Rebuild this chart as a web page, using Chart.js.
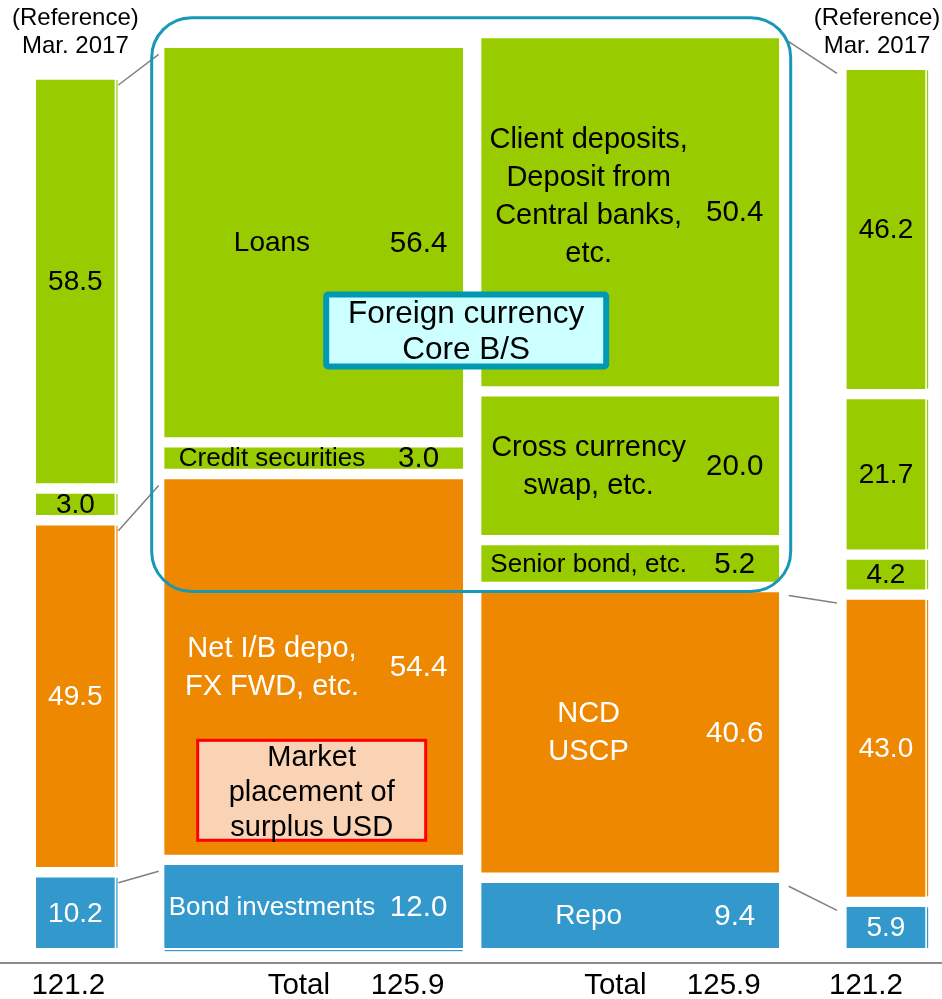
<!DOCTYPE html>
<html>
<head>
<meta charset="utf-8">
<title>Foreign currency B/S</title>
<script src="https://cdn.jsdelivr.net/npm/chart.js@4.4.1/dist/chart.umd.min.js"></script>
<style>
  html, body { margin: 0; padding: 0; background: #ffffff; }
</style>
</head>
<body>
<canvas id="bs-chart" width="942" height="999"></canvas>
<script>
'use strict';

// ******DATA****** (segments are listed bottom to top)
let columnHeaders = ['(Reference)', 'Mar. 2017'];
let columnTotals = [121.2, 125.9, 125.9, 121.2];
let totalLabel = 'Total';

let assetNames = ['Bond investments', 'Net I/B depo,\nFX FWD, etc.', 'Credit securities', 'Loans'];
let assetValues = [12.0, 54.4, 3.0, 56.4];
let refAssetValues = [10.2, 49.5, 3.0, 58.5];
let assetGroups = ['bond', 'market', 'core', 'core'];

let liabilityNames = ['Repo', 'NCD\nUSCP', 'Senior bond, etc.', 'Cross currency\nswap, etc.', 'Client deposits,\nDeposit from\nCentral banks,\netc.'];
let liabilityValues = [9.4, 40.6, 5.2, 20.0, 50.4];
let refLiabilityValues = [5.9, 43.0, 4.2, 21.7, 46.2];
let liabilityGroups = ['bond', 'market', 'core', 'core', 'core'];

let coreBoxText = ['Foreign currency', 'Core B/S'];
let noteBoxText = ['Market', 'placement of', 'surplus USD'];

// ******STYLE / LAYOUT******
const FONT = '"Liberation Sans", Arial, sans-serif';
let groupColors = { core: '#99cc00', market: '#ee8800', bond: '#3399cc' };
let groupTextColors = { core: '#000000', market: '#ffffff', bond: '#ffffff' };
let columnX = [8.0, 33.3, 66.9, 94.05];     // spot of each column on a 0-100 axis
let columnWidths = [78, 298, 297, 78];
const GAP = 1.6;                             // white space between segments, in value units

// ******HELPERS******
function toRanges(values, x) {
  let out = [];
  let base = 0;
  for (let i = 0; i < values.length; i++) {
    out.push({ x: x, y: [base, base + values[i]] });
    base += values[i] + GAP;
  }
  return out;
}

let columns = [
  { values: refAssetValues, groups: assetGroups, names: null },
  { values: assetValues, groups: assetGroups, names: assetNames },
  { values: liabilityValues, groups: liabilityGroups, names: liabilityNames },
  { values: refLiabilityValues, groups: liabilityGroups, names: null }
];

let datasets = columns.map(function (col, i) {
  return {
    label: 'column ' + i,
    data: toRanges(col.values, columnX[i]),
    backgroundColor: col.groups.map(g => groupColors[g]),
    borderWidth: 0,
    barThickness: columnWidths[i],
    grouped: false
  };
});

function setFont(ctx, size) {
  ctx.font = size + 'px ' + FONT;
}

function drawLines(ctx, lines, x, y, lineHeight) {
  let start = y - (lines.length - 1) * lineHeight / 2;
  lines.forEach((line, i) => ctx.fillText(line, x, start + i * lineHeight));
}

// rect of a bar element
function box(el) {
  return {
    left: el.x - el.width / 2,
    right: el.x + el.width / 2,
    top: Math.min(el.y, el.base),
    bottom: Math.max(el.y, el.base)
  };
}

// top edge of the highest segment of a group
function groupTop(chart, colIndex, group) {
  let meta = chart.getDatasetMeta(colIndex);
  let top = null;
  columns[colIndex].groups.forEach(function (g, i) {
    if (g === group) {
      let b = box(meta.data[i]);
      if (top === null || b.top < top) top = b.top;
    }
  });
  return top;
}

function roundRect(ctx, x, y, w, h, r) {
  ctx.beginPath();
  ctx.moveTo(x + r, y);
  ctx.lineTo(x + w - r, y);
  ctx.arcTo(x + w, y, x + w, y + r, r);
  ctx.lineTo(x + w, y + h - r);
  ctx.arcTo(x + w, y + h, x + w - r, y + h, r);
  ctx.lineTo(x + r, y + h);
  ctx.arcTo(x, y + h, x, y + h - r, r);
  ctx.lineTo(x, y + r);
  ctx.arcTo(x, y, x + r, y, r);
  ctx.closePath();
}

// ******PLUGIN: labels, connectors, frames******
let balanceSheetPlugin = {
  id: 'balanceSheet',
  afterDatasetsDraw(chart) {
    let ctx = chart.ctx;
    let area = chart.chartArea;
    let metas = columns.map((c, i) => chart.getDatasetMeta(i));
    let bars = metas.map(m => {
      let b = box(m.data[0]);
      b.top = Math.min.apply(null, m.data.map(el => box(el).top));
      b.center = (b.left + b.right) / 2;
      return b;
    });

    ctx.save();

    // thin slivers beside the reference columns
    [0, 3].forEach(function (ci) {
      metas[ci].data.forEach(function (el, i) {
        let b = box(el);
        ctx.fillStyle = groupColors[columns[ci].groups[i]];
        ctx.fillRect(b.right + 2, b.top, 1.2, b.bottom - b.top);
      });
    });
    // thin line under the bond investments bar
    let bond = box(metas[1].data[0]);
    ctx.fillStyle = groupColors.bond;
    ctx.fillRect(bond.left, bond.bottom + 2, bond.right - bond.left, 1.2);

    // connector lines between reference and current columns
    ctx.strokeStyle = '#808080';
    ctx.lineWidth = 1.5;
    ['core', 'market', 'bond'].forEach(function (g) {
      let a = groupTop(chart, 0, g);
      let b = groupTop(chart, 1, g);
      ctx.beginPath();
      ctx.moveTo(bars[0].right + 4, a + 5);
      ctx.lineTo(bars[1].left - 6, b + 6);
      ctx.stroke();
      let c = groupTop(chart, 2, g);
      let d = groupTop(chart, 3, g);
      ctx.beginPath();
      ctx.moveTo(bars[2].right + 10, c + 3);
      ctx.lineTo(bars[3].left - 10, d + 3);
      ctx.stroke();
    });

    // segment labels
    ctx.textBaseline = 'middle';
    ctx.textAlign = 'center';
    columns.forEach(function (col, ci) {
      metas[ci].data.forEach(function (el, i) {
        let b = box(el);
        let cy = (b.top + b.bottom) / 2;
        let w = b.right - b.left;
        ctx.fillStyle = groupTextColors[col.groups[i]];
        let valueText = col.values[i].toFixed(1);
        if (!col.names) {
          setFont(ctx, 28);
          ctx.fillText(valueText, el.x, cy + 1);
          return;
        }
        let lines = col.names[i].split('\n');
        let size = 28;
        if (lines.length === 1 && lines[0].length > 12) size = 26;
        if (lines.length > 1) size = 29;
        setFont(ctx, size);
        let shift = lines.length > 3 ? -16 : 0;
        drawLines(ctx, lines, b.left + 0.36 * w, cy + 1 + shift, 38);
        setFont(ctx, 29.5);
        ctx.fillText(valueText, b.left + 0.852 * w, cy + 1);
      });
    });

    // rounded frame round the core B/S
    let senior = box(metas[2].data[2]);
    let frame = {
      left: bars[1].left - 13,
      right: bars[2].right + 12,
      top: Math.min(bars[1].top, bars[2].top) - 21,
      bottom: senior.bottom + 10
    };
    ctx.strokeStyle = '#1799b6';
    ctx.lineWidth = 3;
    roundRect(ctx, frame.left, frame.top, frame.right - frame.left, frame.bottom - frame.top, 40);
    ctx.stroke();

    // "Foreign currency Core B/S" box
    let fcx = (bars[1].right + bars[2].left) / 2 - 6;
    let fcy = frame.top + 0.545 * (frame.bottom - frame.top);
    ctx.fillStyle = '#ccffff';
    ctx.strokeStyle = '#0099b3';
    ctx.lineWidth = 6;
    roundRect(ctx, fcx - 140, fcy - 36, 280, 72, 2);
    ctx.fill();
    ctx.stroke();
    ctx.fillStyle = '#000000';
    setFont(ctx, 31.5);
    drawLines(ctx, coreBoxText, fcx, fcy + 2, 36);

    // "Market placement of surplus USD" box
    let market = box(metas[1].data[1]);
    let mx = bars[1].center - 2;
    let mTop = market.bottom - 114;
    ctx.fillStyle = '#fad3b4';
    ctx.strokeStyle = '#ff0000';
    ctx.lineWidth = 3;
    ctx.fillRect(mx - 114, mTop, 228, 100);
    ctx.strokeRect(mx - 114, mTop, 228, 100);
    ctx.fillStyle = '#000000';
    setFont(ctx, 29);
    drawLines(ctx, noteBoxText, mx, mTop + 53, 35);

    // column headers above the reference columns
    setFont(ctx, 24);
    ctx.fillStyle = '#000000';
    [0, 3].forEach(function (ci) {
      let x = Math.min(bars[ci].center, chart.width - 65);
      drawLines(ctx, columnHeaders, x, 32, 28);
    });

    // base line and totals
    let lineY = area.bottom + 15;
    ctx.strokeStyle = '#8c8c8c';
    ctx.lineWidth = 2;
    ctx.beginPath();
    ctx.moveTo(0, lineY);
    ctx.lineTo(chart.width, lineY);
    ctx.stroke();

    setFont(ctx, 29.5);
    let ty = lineY + 23;
    ctx.fillText(columnTotals[0].toFixed(1), bars[0].center - 7, ty);
    ctx.fillText(columnTotals[3].toFixed(1), bars[3].center - 20, ty);
    [1, 2].forEach(function (ci) {
      let w = bars[ci].right - bars[ci].left;
      ctx.fillText(totalLabel, bars[ci].left + 0.45 * w, ty);
      ctx.fillText(columnTotals[ci].toFixed(1), bars[ci].left + 0.815 * w, ty);
    });

    ctx.restore();
  }
};

// ******CHART******
let canvasElem = document.getElementById('bs-chart').getContext('2d');

new Chart(canvasElem, {
  type: 'bar',
  data: { datasets: datasets },
  options: {
    responsive: false,
    animation: false,
    devicePixelRatio: 1,
    layout: { padding: { top: 18, bottom: 51, left: 0, right: 0 } },
    plugins: {
      legend: { display: false },
      tooltip: { enabled: false }
    },
    scales: {
      x: { type: 'linear', min: 0, max: 100, offset: false, display: false },
      y: { min: 0, max: 135, display: false }
    }
  },
  plugins: [balanceSheetPlugin]
});
</script>
</body>
</html>
